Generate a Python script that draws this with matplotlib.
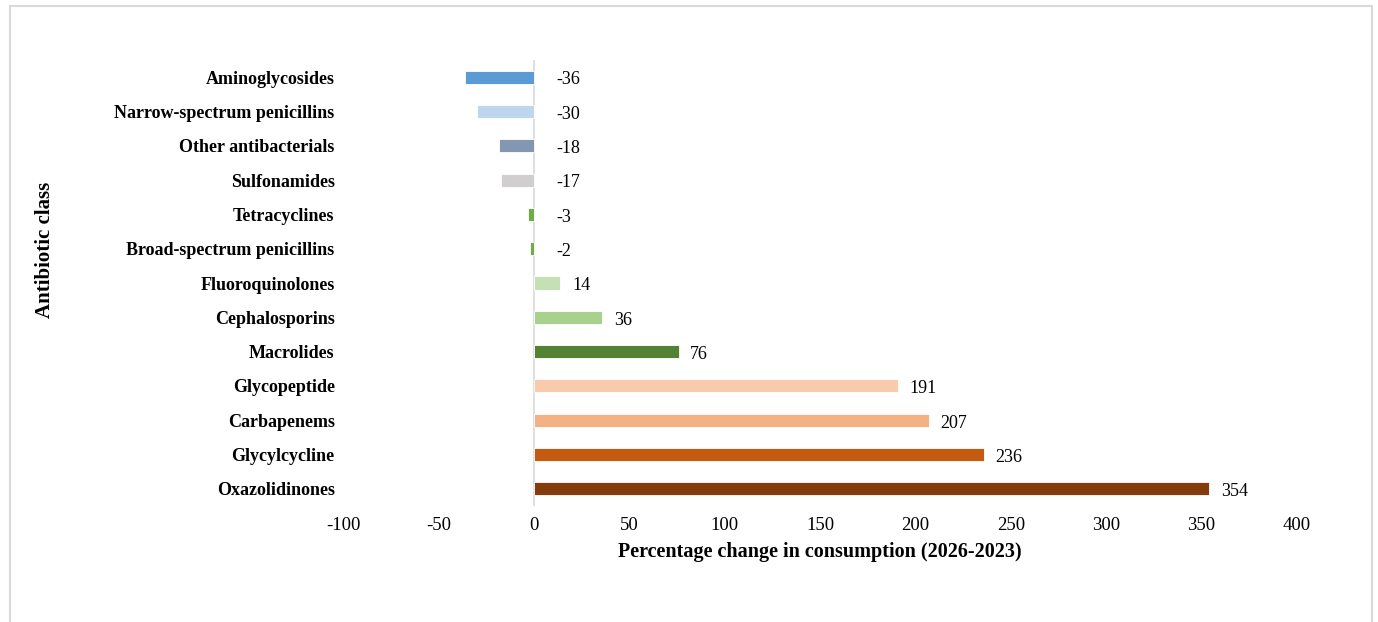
import matplotlib
matplotlib.use("Agg")
import matplotlib.pyplot as plt

# antibiotic classes, top to bottom
classes = ["Aminoglycosides", "Narrow-spectrum penicillins", "Other antibacterials",
           "Sulfonamides", "Tetracyclines", "Broad-spectrum penicillins",
           "Fluoroquinolones", "Cephalosporins", "Macrolides", "Glycopeptide",
           "Carbapenems", "Glycylcycline", "Oxazolidinones"]
change = [-36, -30, -18, -17, -3, -2, 14, 36, 76, 191, 207, 236, 354]
colors = ["#5b9bd5", "#bdd7ee", "#8497b0", "#d0cece", "#70ad47", "#70ad47",
          "#c5e0b4", "#a9d18e", "#548235", "#f8cbad", "#f4b183", "#c55a11", "#843c0c"]
xticks = [-100, -50, 0, 50, 100, 150, 200, 250, 300, 350, 400]

plt.rcParams['font.family'] = ['Liberation Serif', 'DejaVu Serif']

fig = plt.figure(figsize=(13.78, 6.22), dpi=100)
ax = fig.add_axes([0.2489, 0.1865, 0.6923, 0.717])

pos = list(range(len(classes)))
ax.barh(pos, change, height=0.38, color=colors, edgecolor='white', linewidth=0.6, zorder=2)
ax.axvline(0, color='#d9d9d9', linewidth=1.2, zorder=1)

# value labels: right of bar end for gains, right of the axis for losses
for y, v in zip(pos, change):
    x = v + 6 if v > 0 else 12
    ax.annotate(str(v), (x, y), xytext=(0, -2), textcoords='offset points',
                va='center', ha='left', fontsize=13, color='black')

ax.set_ylim(len(classes) - 0.5, -0.5)
ax.set_xlim(-100, 400)
ax.set_xticks(xticks)
ax.set_xticklabels([str(t) for t in xticks], fontsize=13.5)
ax.set_yticks(pos)
ax.set_yticklabels(classes, fontsize=13, fontweight='bold')
ax.tick_params(axis='both', length=0)
ax.tick_params(axis='x', pad=8)
ax.tick_params(axis='y', pad=6)
for s in ax.spines.values():
    s.set_visible(False)

ax.set_xlabel("Percentage change in consumption (2026-2023)", fontsize=14.5,
              fontweight='bold', labelpad=6)
fig.text(0.033, 0.598, "Antibiotic class", rotation=90, fontsize=15,
         fontweight='bold', ha='center', va='center')

# light chart border
fig.add_artist(plt.Rectangle((0.0075, -0.05), 0.988, 1.04, transform=fig.transFigure,
                             fill=False, edgecolor='#d9d9d9', linewidth=1.5))

fig.savefig("out.png", dpi=100)
